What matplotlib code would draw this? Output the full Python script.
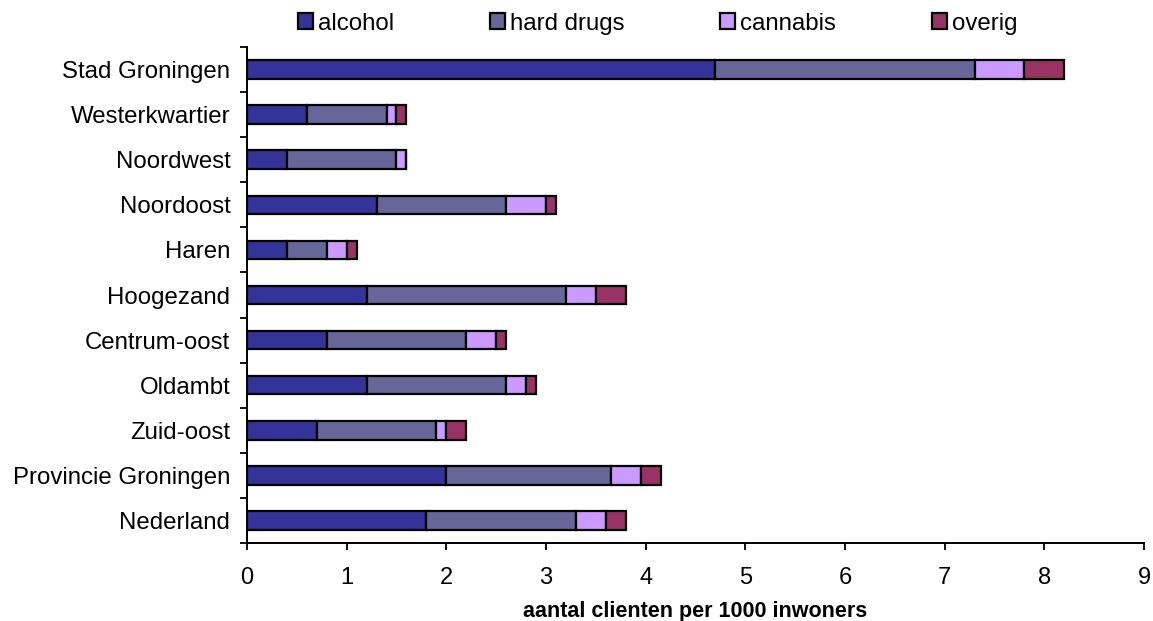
import numpy as np
import matplotlib
matplotlib.use('Agg')
import matplotlib.pyplot as plt
from matplotlib.ticker import FixedLocator

plt.rcParams['font.family'] = ['Liberation Sans', 'DejaVu Sans']

# data (aantal clienten per 1000 inwoners)
categories = ['Stad Groningen', 'Westerkwartier', 'Noordwest', 'Noordoost', 'Haren',
              'Hoogezand', 'Centrum-oost', 'Oldambt', 'Zuid-oost',
              'Provincie Groningen', 'Nederland']
alcohol = [4.7, 0.6, 0.4, 1.3, 0.4, 1.2, 0.8, 1.2, 0.7, 2.0, 1.8]
hard_drugs = [2.6, 0.8, 1.1, 1.3, 0.4, 2.0, 1.4, 1.4, 1.2, 1.65, 1.5]
cannabis = [0.5, 0.1, 0.1, 0.4, 0.2, 0.3, 0.3, 0.2, 0.1, 0.3, 0.3]
overig = [0.4, 0.1, 0.0, 0.1, 0.1, 0.3, 0.1, 0.1, 0.2, 0.2, 0.2]

series_names = ['alcohol', 'hard drugs', 'cannabis', 'overig']
series_colors = ['#333399', '#666699', '#CC99FF', '#993366']
x_ticks = list(range(0, 10))

fig = plt.figure(figsize=(11.53, 6.21), dpi=100)
ax = fig.add_axes([0.2142, 0.1256, 0.7780, 0.7987])

y = np.arange(len(categories))
left = np.zeros(len(categories))
for name, values, color in zip(series_names, [alcohol, hard_drugs, cannabis, overig], series_colors):
    ax.barh(y, values, left=left, height=0.41, color=color,
            edgecolor='black', linewidth=1.6, label=name)
    left = left + np.array(values)

ax.set_ylim(len(categories) - 0.5, -0.5)
ax.set_xlim(0, 9)

ax.set_yticks(y)
ax.set_yticklabels(categories)
ax.yaxis.set_minor_locator(FixedLocator(np.arange(-0.5, len(categories), 1.0)))
ax.tick_params(axis='y', which='major', length=0, pad=12, labelsize=17.3)
ax.tick_params(axis='y', which='minor', length=5, width=1.3, direction='out')

ax.set_xticks(x_ticks)
ax.tick_params(axis='x', which='major', length=5, width=1.3, direction='out',
               pad=12, labelsize=17)

for side in ['top', 'right']:
    ax.spines[side].set_visible(False)
for side in ['left', 'bottom']:
    ax.spines[side].set_linewidth(1.4)

ax.set_xlabel('aantal clienten per 1000 inwoners', fontsize=15.5,
              fontweight='bold', labelpad=9)

fig.legend(loc='center left', bbox_to_anchor=(0.2585, 0.962), ncol=4,
           frameon=False, fontsize=17.3, handlelength=0.62, handleheight=0.62,
           handletextpad=0.2, columnspacing=4.0, borderpad=0, borderaxespad=0)

fig.savefig('out.png', dpi=100)
